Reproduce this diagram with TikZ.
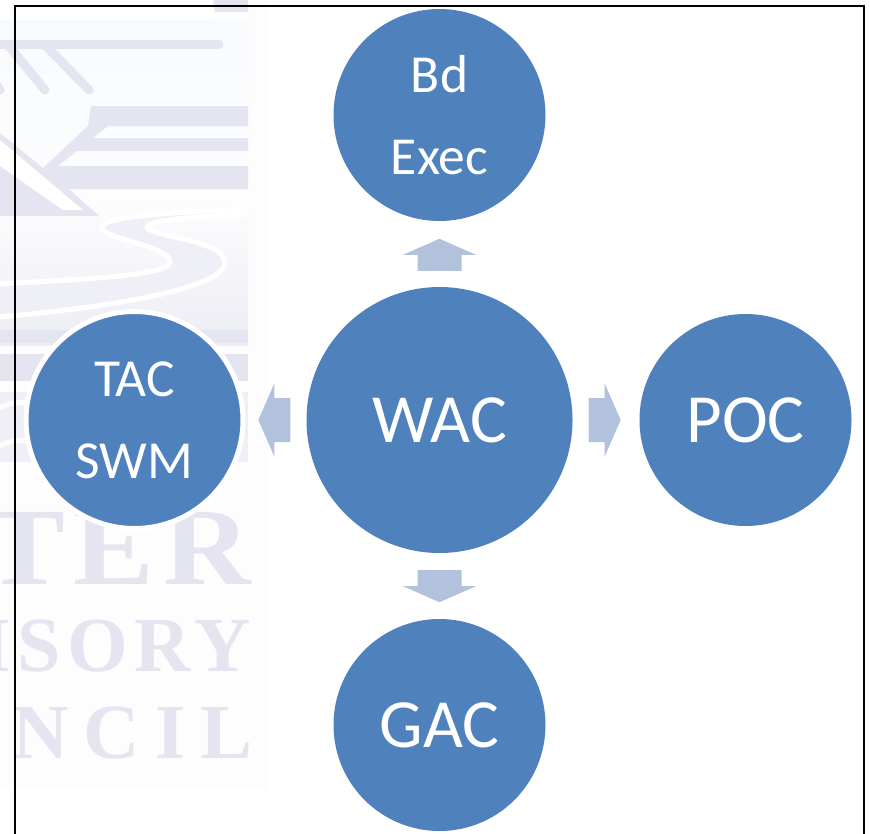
\documentclass[tikz,border=0pt]{standalone}
\usepackage{fontspec}
\setmainfont{Carlito}
\newfontfamily\wmfont{Liberation Serif}[BoldFont={Liberation Serif Bold}]
\usetikzlibrary{calc}
\definecolor{circ}{HTML}{4F81BD}
\definecolor{arw}{HTML}{B3C2DC}
\definecolor{wm}{HTML}{E4E5F0}
\definecolor{wmlight}{HTML}{EFF0F7}
\definecolor{wmhaze}{HTML}{FDFDFE}
\definecolor{wmtop}{HTML}{F8FBFE}
\definecolor{wmlow}{HTML}{ECECF4}
\tikzset{
  x=1pt,y=-1pt,
  bubble/.style={circle,fill=circ,text=white,inner sep=0pt,align=center},
  small/.style={bubble,minimum size=212pt,font=\fontsize{53.5}{82}\selectfont},
  big/.style={bubble,minimum size=266pt,font=\fontsize{69}{80}\selectfont},
  solo/.style={font=\fontsize{69}{80}\selectfont},
  blockarrow/.style={fill=arw,draw=none},
  wmband/.style={fill=wm,draw=none},
  wmline/.style={draw=wm,line width=9pt,line cap=round},
  wmtext/.style={text=wm,inner sep=0pt,anchor=base east},
  frameline/.style={draw=black,line width=2pt},
}
\newcommand{\uparrowshape}{(0,0) -- (36.5,16) -- (22,16) -- (22,32) -- (-22,32) -- (-22,16) -- (-36.5,16) -- cycle}
\begin{document}
\begin{tikzpicture}
\useasboundingbox (0,0) rectangle (870,833);
\fill[white] (0,0) rectangle (870,833);
% watermark
\fill[wmhaze] (0,0) rectangle (268,790);
\fill[white] (0,0) rectangle (213,20);
\shade[top color=wmtop,bottom color=wmhaze] (0,20) rectangle (248,200);
\shade[top color=wmhaze,bottom color=wmlow] (0,200) rectangle (248,345);
\fill[wm] (213,0) -- (248,0) -- (248,12) -- (215,12) -- cycle;
\draw[wmline] (0,44.5) -- (219,44.5);
\draw[wmline] (45,45) -- (89,90);
\draw[wmline] (8,45) -- (45,90);
\draw[wmline] (-8,78) -- (0,90);
\fill[wmband] (91,106) -- (248,106) -- (248,126) -- (108,126) -- (93,138) -- (248,138) -- (248,151)
  -- (77,151) -- (58,166) -- (248,166) -- (248,189) -- (69,189) -- (99,216) -- (0,216)
  -- (0,133) -- (43,168) -- (88,126) -- cycle;
\fill[white] (0,140) -- (83,210) -- (63,210) -- (0,166) -- cycle;
% river
\fill[wmlight] (248,209) .. controls (180,212) and (102,216) .. (102,227)
  .. controls (102,240) and (170,245) .. (170,262)
  .. controls (170,277) and (60,280) .. (0,284)
  -- (0,317) .. controls (100,308) and (225,290) .. (225,262)
  .. controls (225,240) and (147,236) .. (147,227)
  .. controls (147,220) and (200,216) .. (248,214) -- cycle;
\draw[white,line width=5pt] (248,209) .. controls (180,212) and (102,216) .. (102,227)
  .. controls (102,240) and (170,245) .. (170,262)
  .. controls (170,277) and (60,280) .. (0,284);
\draw[white,line width=5pt] (0,317) .. controls (100,308) and (225,290) .. (225,262)
  .. controls (225,240) and (147,236) .. (147,227)
  .. controls (147,220) and (200,216) .. (248,214);
% lower bands
\fill[wm] (0,330) rectangle (248,343);
\fill[wm] (0,354) rectangle (248,381);
\fill[wmlight] (0,392) rectangle (248,462);
\draw[wmhaze,line width=5pt] (0,408) arc[start angle=120,end angle=50,radius=40pt];
\draw[wmhaze,line width=5pt] (0,446) arc[start angle=120,end angle=50,radius=40pt];
% watermark lettering
\node[wmtext,xscale=1.1,transform shape,font=\wmfont\bfseries\fontsize{110}{110}\selectfont\addfontfeature{LetterSpace=7.3}] (wmter) at (251,584) {TER};
\node[wmtext,font=\wmfont\bfseries\fontsize{78}{78}\selectfont\addfontfeature{LetterSpace=8.4}] (wmisory) at (251,671) {ISORY};
\node[wmtext,font=\wmfont\bfseries\fontsize{78}{78}\selectfont\addfontfeature{LetterSpace=19.3}] (wmncil) at (253,758) {NCIL};
% frame
\draw[frameline] (15,835) -- (15,5.5) -- (864,5.5) -- (864,835);
% circles
\node[big] (wac) at (439.5,420) {WAC};
\node[small] (bd) at (439.5,115) {Bd\\Exec};
\node[small,solo] (gac) at (439.5,725) {GAC};
\node[small,solo] (poc) at (745.5,420) {POC};
\node[small,draw=white,line width=5pt,minimum size=217pt] (tac) at (134.5,420) {TAC\\SWM};
% block arrows
\path[blockarrow,shift={(wac.north)},yshift=48pt] \uparrowshape;
\path[blockarrow,shift={(wac.south)},yshift=-49pt,yscale=-1] \uparrowshape;
\path[blockarrow,shift={(wac.east)},xshift=48pt,rotate=-90] \uparrowshape;
\path[blockarrow,shift={(wac.west)},xshift=-48pt,rotate=90] \uparrowshape;
\end{tikzpicture}
\end{document}
